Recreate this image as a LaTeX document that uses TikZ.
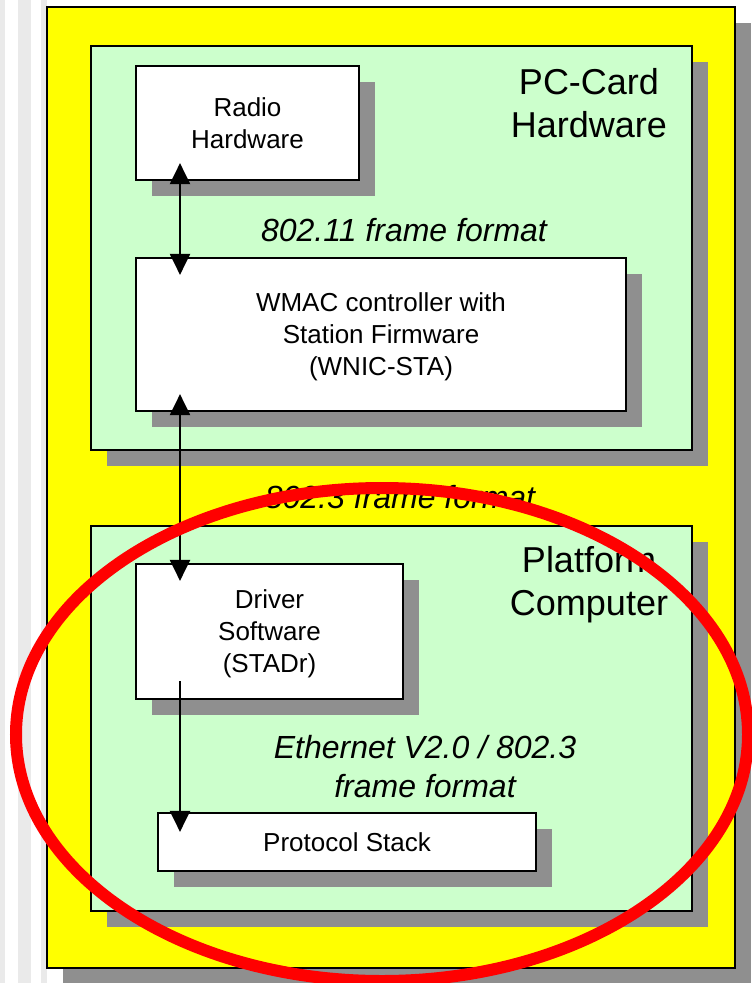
\documentclass[tikz,border=0pt]{standalone}
\usepackage{fontspec}
\setmainfont{Liberation Sans}
\usetikzlibrary{arrows.meta,shadows,calc}
\definecolor{shadowc}{RGB}{143,143,143}
\definecolor{cardgreen}{RGB}{204,255,204}
\definecolor{hlyellow}{RGB}{255,255,0}
\definecolor{ringred}{RGB}{255,0,0}
\definecolor{stripec}{RGB}{234,234,234}
\tikzset{
  shadowed/.style={drop shadow={shadow xshift=16pt, shadow yshift=-16pt, fill=shadowc, opacity=1}},
  panel/.style={shadowed, draw=black, line width=2.2pt, inner sep=0pt, rectangle},
  outerbox/.style={panel, fill=hlyellow, line width=2.5pt},
  greenbox/.style={panel, fill=cardgreen},
  whitebox/.style={panel, fill=white, font=\fontsize{26}{32}\selectfont, align=center, text depth=0pt},
  titletext/.style={font=\fontsize{36}{43}\selectfont, align=center, inner sep=0pt},
  flowtext/.style={font=\fontsize{32}{39}\selectfont\itshape, align=center, inner sep=0pt},
  link/.style={line width=2.2pt, draw=black},
  tipend/.style={-{Triangle[length=21pt,width=20pt]}},
  tipboth/.style={{Triangle[length=21pt,width=20pt]}-{Triangle[length=21pt,width=20pt]}},
  ring/.style={draw=ringred, line width=12pt}
}
\begin{document}
\begin{tikzpicture}[x=1pt,y=-1pt]
\useasboundingbox (0,0) rectangle (752,983);
% left margin stripes
\fill[stripec] (0,0) rectangle (5,983);
\fill[stripec] (18,0) rectangle (31,983);
\fill[stripec] (41,0) rectangle (47,983);
% frames
\node[outerbox, minimum width=688, minimum height=961] (outer) at (391,487.5) {};
\node[greenbox, minimum width=601, minimum height=404] (pccard) at (391.5,248) {};
\node[greenbox, minimum width=601, minimum height=385] (platform) at (391.5,718.5) {};
% inner boxes
\node[whitebox, minimum width=223, minimum height=114] (radio) at (247.5,123) {Radio\\Hardware};
\node[whitebox, minimum width=490, minimum height=153] (wmac) at (381,334.5) {WMAC controller with\\Station Firmware\\(WNIC-STA)};
\node[whitebox, minimum width=267, minimum height=135] (driver) at (269.5,631.5) {Driver\\Software\\(STADr)};
\node[whitebox, minimum width=378, minimum height=58] (proto) at (347,842) {Protocol Stack};
% titles and labels
\node[titletext] (pctitle) at (589,103) {PC-Card\\Hardware};
\node[titletext] (pftitle) at (589,585) {Platform\\Computer};
\node[flowtext] (f80211) at (404,230) {802.11 frame format};
\node[flowtext] (f8023) at (400,497) {802.3 frame format};
\node[flowtext] (feth) at (425,767) {Ethernet V2.0 / 802.3\\frame format};
% connectors
\coordinate (ax) at (180,0);
\draw[link, tipboth] ($(radio.south -| ax)+(0,-18)$) -- ($(wmac.north -| ax)+(0,18)$);
\draw[link, tipboth] ($(wmac.south -| ax)+(0,-18)$) -- ($(driver.north -| ax)+(0,18)$);
\draw[link, tipend] ($(driver.south -| ax)+(0,-19)$) -- ($(proto.north -| ax)+(0,20)$);
% highlight ring
\draw[ring] (382,734.5) ellipse [x radius=366, y radius=246.5];
\end{tikzpicture}
\end{document}
